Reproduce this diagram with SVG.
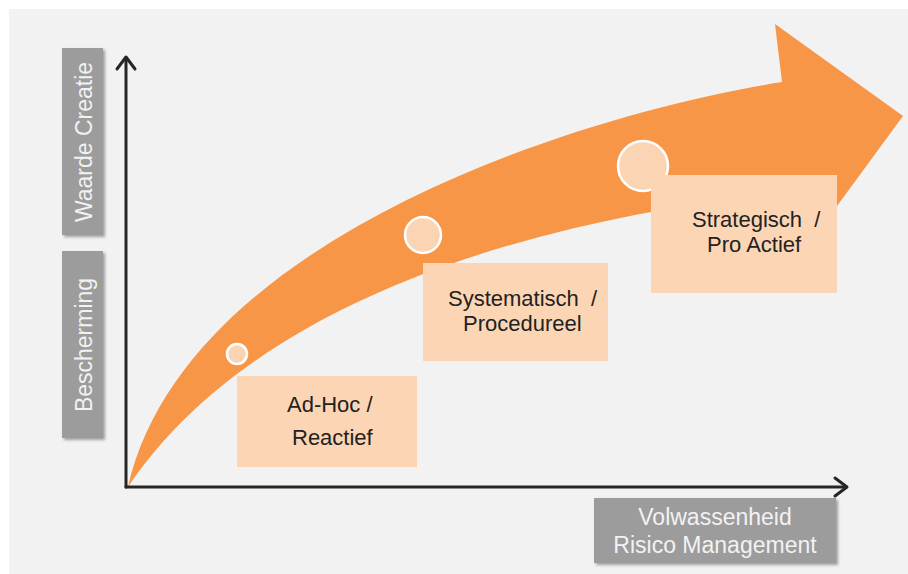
<svg xmlns="http://www.w3.org/2000/svg" width="908" height="574" viewBox="0 0 908 574">
  <defs>
    <style>
      .band { fill: #f79646; }
      .dot { fill: #fbd4b4; stroke: #ffffff; stroke-width: 2.5; }
      .stage { fill: #fcd5b4; }
      .stxt { font-family: "Liberation Sans", Arial, sans-serif; font-size: 22px; fill: #222222; }
      .glab { fill: #9c9c9c; filter: url(#sh); }
      .gtxt { font-family: "Liberation Sans", Arial, sans-serif; font-size: 23px; fill: #f2f2f2; text-anchor: middle; }
      .axis { stroke: #262626; stroke-width: 3; fill: none; stroke-linecap: round; stroke-linejoin: round; }
    </style>
    <filter id="sh" x="-10%" y="-10%" width="130%" height="130%">
      <feDropShadow dx="2" dy="2" stdDeviation="1.5" flood-color="#000000" flood-opacity="0.35"/>
    </filter>
  </defs>

  <rect x="9" y="9" width="899" height="565" fill="#f2f2f2"/>

  <g id="growth-arrow">
    <path class="band" d="M128,487 C185,237 582,114 782,82 L775,24 L903,116 L815,236 L795,192 C560,215 260,290 128,487 Z"/>
  </g>

  <g id="connectors">
    <line class="axis" x1="126" y1="487" x2="126" y2="58"/>
    <polyline class="axis" stroke-width="3.5" points="117,69 126,57 135,69"/>
    <line class="axis" x1="126" y1="487" x2="846" y2="487"/>
    <polyline class="axis" stroke-width="3.5" points="835,478 847,487 835,496"/>
  </g>

  <g id="dot-adhoc"><circle class="dot" cx="237" cy="354" r="10"/></g>
  <g id="dot-systematisch"><circle class="dot" cx="423" cy="235" r="18"/></g>
  <g id="dot-strategisch"><circle class="dot" cx="643" cy="166" r="25"/></g>

  <g id="stage-adhoc">
    <rect class="stage" x="237" y="376" width="180" height="91"/>
    <text class="stxt" x="287" y="412">Ad-Hoc /</text>
    <text class="stxt" x="292" y="445">Reactief</text>
  </g>

  <g id="stage-systematisch">
    <rect class="stage" x="423" y="263" width="185" height="98"/>
    <text class="stxt" x="448" y="306" xml:space="preserve">Systematisch  /</text>
    <text class="stxt" x="463" y="331">Procedureel</text>
  </g>

  <g id="stage-strategisch">
    <rect class="stage" x="651" y="175" width="186" height="118"/>
    <text class="stxt" x="692" y="227" xml:space="preserve">Strategisch  /</text>
    <text class="stxt" x="707" y="252">Pro Actief</text>
  </g>

  <g id="label-waarde">
    <rect class="glab" x="62" y="48" width="41" height="187"/>
    <text class="gtxt" transform="translate(92,142) rotate(-90)">Waarde Creatie</text>
  </g>

  <g id="label-bescherming">
    <rect class="glab" x="62" y="251" width="41" height="187"/>
    <text class="gtxt" transform="translate(92,345) rotate(-90)">Bescherming</text>
  </g>

  <g id="label-volwassenheid">
    <rect class="glab" x="594" y="498" width="242" height="65"/>
    <text class="gtxt" x="715" y="525">Volwassenheid</text>
    <text class="gtxt" x="715" y="553">Risico Management</text>
  </g>
</svg>
